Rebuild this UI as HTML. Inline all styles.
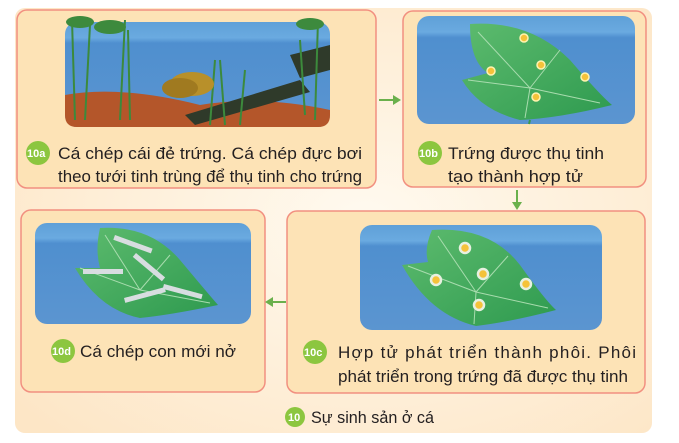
<!DOCTYPE html>
<html><head><meta charset="utf-8"><style>html,body{margin:0;padding:0;background:#fff}svg{display:block}text{font-family:"Liberation Sans",sans-serif;fill:#231f20}</style></head><body>
<svg width="679" height="443" viewBox="0 0 679 443" xmlns="http://www.w3.org/2000/svg">
<defs>
<radialGradient id="bg" cx="0.55" cy="0.5" r="0.7"><stop offset="0" stop-color="#fffaf0"/><stop offset="1" stop-color="#fde6c6"/></radialGradient>
<linearGradient id="w" x1="0" y1="0" x2="0" y2="1"><stop offset="0" stop-color="#5fa0d8"/><stop offset="0.15" stop-color="#6aaae0"/><stop offset="0.2" stop-color="#4f8fcf"/><stop offset="1" stop-color="#5b95d0"/></linearGradient>
<linearGradient id="lf" x1="0" y1="0" x2="1" y2="1"><stop offset="0" stop-color="#5dbb6e"/><stop offset="1" stop-color="#2e9a4f"/></linearGradient>
</defs>
<rect x="15" y="8" width="637" height="425" rx="10" fill="url(#bg)"/>
<g fill="#fde3b6" stroke="#f29080" stroke-width="1.5">
<rect x="17" y="10" width="359" height="178" rx="10"/>
<rect x="403" y="11" width="243" height="176" rx="10"/>
<rect x="21" y="210" width="244" height="182" rx="10"/>
<rect x="287" y="211" width="358" height="182" rx="10"/>
</g>
<!-- image a -->
<rect x="65" y="22" width="265" height="105" rx="12" fill="url(#w)"/>
<path d="M65 95 Q120 85 200 105 Q260 95 330 110 L330 115 Q330 127 318 127 L77 127 Q65 127 65 115Z" fill="#b4562a"/>
<path d="M185 115 L300 80 L310 92 L195 125Z" fill="#2f3a2a"/>
<path d="M290 55 L330 45 L330 70 L300 78Z" fill="#2f3a2a"/>
<g stroke="#3c8a3c" stroke-width="2" fill="none">
<path d="M75 120 L72 20"/><path d="M85 120 L90 25"/><path d="M120 120 L125 20"/><path d="M130 120 L128 30"/><path d="M210 125 L215 60"/><path d="M225 125 L220 60"/><path d="M240 125 L245 70"/><path d="M315 120 L318 20"/><path d="M305 115 L300 40"/>
</g>
<ellipse cx="80" cy="22" rx="14" ry="6" fill="#3d8a3d"/><ellipse cx="110" cy="27" rx="16" ry="7" fill="#3d8a3d"/><ellipse cx="310" cy="24" rx="14" ry="6" fill="#3d8a3d"/>
<ellipse cx="192" cy="84" rx="22" ry="12" fill="#b8902a"/><ellipse cx="180" cy="88" rx="18" ry="10" fill="#a07a20"/>
<!-- image b -->
<rect x="417" y="16" width="218" height="108" rx="12" fill="url(#w)"/>
<path d="M470 24 Q530 20 570 60 Q600 95 612 105 Q560 118 520 120 Q480 110 462 80 L488 73 Q470 62 470 24Z" fill="url(#lf)"/>
<g stroke="#a8dcae" stroke-width="1" fill="none"><path d="M530 88 L478 32"/><path d="M530 88 L600 103"/><path d="M530 88 L468 80"/><path d="M530 88 L560 50"/><path d="M530 88 L525 118"/></g>
<line x1="530" y1="120" x2="529" y2="124" stroke="#3a9a50" stroke-width="2"/>
<g fill="#f5c23a" stroke="#fff3b0" stroke-width="1.5"><circle cx="524" cy="38" r="4"/><circle cx="491" cy="71" r="4"/><circle cx="541" cy="65" r="4"/><circle cx="585" cy="77" r="4"/><circle cx="536" cy="97" r="4"/></g>
<!-- image d -->
<rect x="35" y="223" width="216" height="101" rx="12" fill="url(#w)"/>
<path d="M100 228 Q150 225 180 260 Q205 290 218 305 Q170 315 140 318 Q100 310 75 268 L100 268 Q95 250 100 228Z" fill="url(#lf)"/>
<g stroke="#a8dcae" stroke-width="1" fill="none"><path d="M140 290 L105 235"/><path d="M140 290 L210 303"/><path d="M140 290 L80 268"/><path d="M140 290 L170 255"/></g>
<g fill="#d8dde0"><rect x="115" y="235" width="40" height="5" transform="rotate(20 115 235)"/><rect x="136" y="253" width="38" height="5" transform="rotate(40 136 253)"/><rect x="83" y="269" width="40" height="5"/><rect x="164" y="284" width="40" height="5" transform="rotate(15 164 284)"/><rect x="124" y="298" width="42" height="5" transform="rotate(-15 124 298)"/></g>
<!-- image c -->
<rect x="360" y="225" width="242" height="105" rx="12" fill="url(#w)"/>
<path d="M432 230 Q490 226 520 265 Q545 300 556 310 Q510 322 476 326 Q430 315 402 265 L428 262 Q424 248 432 230Z" fill="url(#lf)"/>
<g stroke="#a8dcae" stroke-width="1" fill="none"><path d="M476 292 L438 236"/><path d="M476 292 L548 308"/><path d="M476 292 L408 266"/><path d="M476 292 L508 256"/><path d="M476 292 L474 324"/></g>
<g fill="#f5c23a" stroke="#e8f0e0" stroke-width="2.5"><circle cx="465" cy="248" r="5"/><circle cx="436" cy="280" r="5"/><circle cx="483" cy="274" r="5"/><circle cx="526" cy="284" r="5"/><circle cx="479" cy="305" r="5"/></g>
<!-- arrows -->
<g stroke="#6ab04c" stroke-width="2" fill="none"><line x1="379" y1="100" x2="398" y2="100"/><line x1="517" y1="190" x2="517" y2="207"/><line x1="286" y1="302" x2="268" y2="302"/></g>
<g fill="#6ab04c"><path d="M401 100 L393 95 L393 105Z"/><path d="M517 210 L512 202 L522 202Z"/><path d="M265 302 L273 297 L273 307Z"/></g>
<!-- badges -->
<g fill="#8cc63f"><circle cx="38" cy="153" r="12"/><circle cx="430" cy="153" r="12"/><circle cx="63" cy="351" r="12"/><circle cx="315" cy="352" r="12"/><circle cx="295" cy="417" r="10"/></g>
<g font-weight="bold" font-size="11"><text x="27" y="157" style="fill:#fff">10a</text><text x="419" y="157" style="fill:#fff">10b</text><text x="52" y="355" style="fill:#fff">10d</text><text x="304" y="356" style="fill:#fff">10c</text><text x="288" y="421" style="fill:#fff">10</text></g>
<g font-size="17">
<text x="58" y="159" textLength="304" lengthAdjust="spacingAndGlyphs">Cá chép cái đẻ trứng. Cá chép đực bơi</text>
<text x="58" y="182" textLength="304" lengthAdjust="spacingAndGlyphs">theo tưới tinh trùng để thụ tinh cho trứng</text>
<text x="448" y="159" textLength="156" lengthAdjust="spacingAndGlyphs">Trứng được thụ tinh</text>
<text x="448" y="182" textLength="135" lengthAdjust="spacingAndGlyphs">tạo thành hợp tử</text>
<text x="80" y="357" textLength="156" lengthAdjust="spacingAndGlyphs">Cá chép con mới nở</text>
<text x="338" y="358" textLength="298" lengthAdjust="spacing">Hợp tử phát triển thành phôi. Phôi</text>
<text x="338" y="382" textLength="290" lengthAdjust="spacingAndGlyphs">phát triển trong trứng đã được thụ tinh</text>
<text x="311" y="423" textLength="123" lengthAdjust="spacingAndGlyphs">Sự sinh sản ở cá</text>
</g>
</svg>
</body></html>
